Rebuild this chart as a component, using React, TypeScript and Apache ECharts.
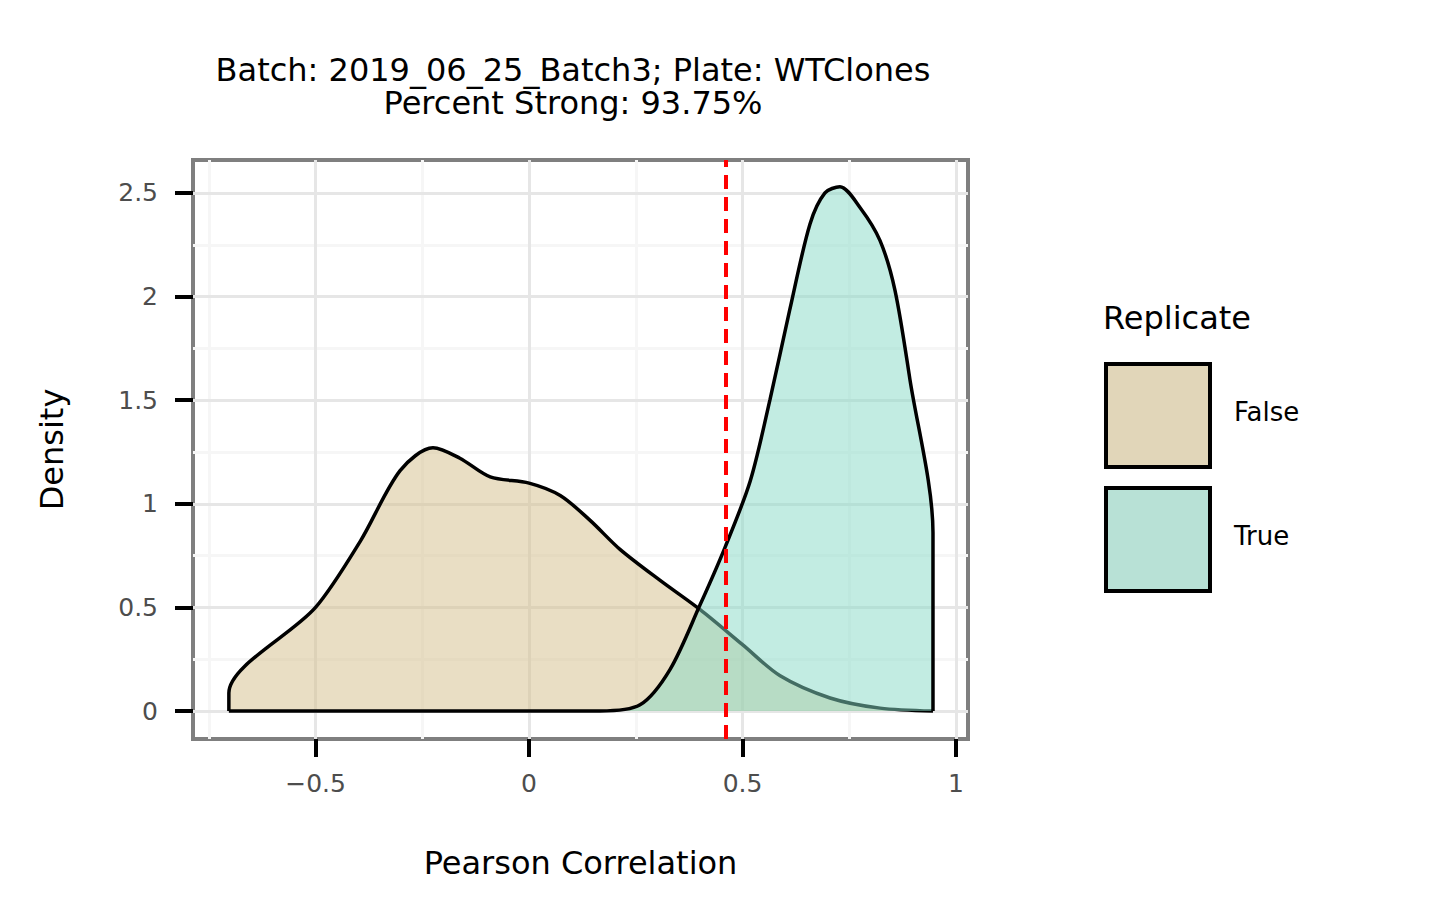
import { useEffect, useRef } from 'react';
import * as echarts from 'echarts';

const falseX = [-0.703, -0.703, -0.5, -0.395, -0.302, -0.225, -0.162, -0.091, 0, 0.073, 0.143, 0.213, 0.307, 0.4, 0.5, 0.588, 0.705, 0.822, 0.946];
const falseY = [0, 0.087, 0.5, 0.82, 1.16, 1.27, 1.22, 1.13, 1.1, 1.04, 0.92, 0.78, 0.63, 0.49, 0.32, 0.17, 0.063, 0.014, 0];
const trueX = [-0.703, 0.166, 0.26, 0.33, 0.4, 0.459, 0.518, 0.564, 0.611, 0.658, 0.693, 0.728, 0.775, 0.822, 0.857, 0.892, 0.946, 0.946];
const trueY = [0, 0, 0.03, 0.2, 0.51, 0.79, 1.11, 1.5, 1.94, 2.35, 2.5, 2.53, 2.43, 2.27, 2.03, 1.6, 0.86, 0];
const xTicks = [-0.5, 0, 0.5, 1];
const xMinor = [-0.75, -0.25, 0.25, 0.75];
const yTicks = [0, 0.5, 1, 1.5, 2, 2.5];
const yMinor = [0.25, 0.75, 1.25, 1.75, 2.25];
const threshold = 0.459;

const fmt = (v: number) => (v < 0 ? '\u2212' + Math.abs(v) : String(v));

export default function App() {
  const ref = useRef<HTMLDivElement>(null);

  useEffect(() => {
    if (!ref.current) return;
    const chart = echarts.init(ref.current, null, { renderer: 'svg' });
    const font = 'DejaVu Sans';
    const gridLines = (xs: number[], ys: number[], color: string) => [
      ...xs.map((v) => ({ xAxis: v, lineStyle: { color, width: 3, type: 'solid' } })),
      ...ys.map((v) => ({ yAxis: v, lineStyle: { color, width: 3, type: 'solid' } })),
    ];
    chart.setOption({
      animation: false,
      textStyle: { fontFamily: font },
      title: {
        text: 'Batch: 2019_06_25_Batch3; Plate: WTClones\nPercent Strong: 93.75%',
        left: 568,
        top: 48,
        textAlign: 'center',
        textStyle: { fontSize: 32, fontWeight: 'normal', color: '#000', lineHeight: 33, fontFamily: font },
      },
      grid: { left: 193, top: 160, width: 775, height: 579, show: true, borderColor: '#7f7f7f', borderWidth: 4, backgroundColor: '#fff' },
      xAxis: {
        type: 'value', min: -0.787, max: 1.028,
        name: 'Pearson Correlation', nameLocation: 'middle', nameGap: 108,
        nameTextStyle: { fontSize: 32, color: '#000' },
        axisLine: { show: false, onZero: false },
        splitLine: { show: false },
        axisTick: { show: true, length: 18, lineStyle: { color: '#000', width: 4 }, customValues: xTicks },
        axisLabel: { customValues: xTicks, formatter: fmt, fontSize: 25, color: '#4d4d4d', margin: 32 },
      },
      yAxis: {
        type: 'value', min: -0.135, max: 2.659,
        name: 'Density', nameLocation: 'middle', nameGap: 125,
        nameTextStyle: { fontSize: 32, color: '#000' },
        axisLine: { show: false, onZero: false },
        splitLine: { show: false },
        axisTick: { show: true, length: 18, lineStyle: { color: '#000', width: 4 }, customValues: yTicks },
        axisLabel: { customValues: yTicks, formatter: fmt, fontSize: 25, color: '#4d4d4d', margin: 35 },
      },
      series: [
        {
          type: 'line', silent: true, data: [], symbol: 'none', z: 1,
          markLine: {
            silent: true, symbol: 'none', label: { show: false }, z: 1,
            data: [...gridLines(xMinor, yMinor, '#f6f6f6'), ...gridLines(xTicks, yTicks, '#e6e6e6')],
          },
        },
        {
          name: 'False', type: 'line', symbol: 'none', smooth: 0.3, z: 3,
          data: falseX.map((x, i) => [x, falseY[i]]),
          lineStyle: { color: '#000', width: 3.5 },
          areaStyle: { color: '#d4be8a', opacity: 0.5, origin: 0 },
        },
        {
          name: 'True', type: 'line', symbol: 'none', smooth: 0.3, z: 4,
          data: trueX.map((x, i) => [x, trueY[i]]),
          lineStyle: { color: '#000', width: 3.5 },
          areaStyle: { color: '#86d9c6', opacity: 0.5, origin: 0 },
          markLine: {
            silent: true, symbol: 'none', label: { show: false }, z: 5,
            data: [{ xAxis: threshold }],
            lineStyle: { color: '#ff0000', width: 4, type: [14, 8] },
          },
        },
      ],
      graphic: [
        { type: 'text', left: 1103, top: 302, style: { text: 'Replicate', fontSize: 32, fill: '#000', fontFamily: font } },
        { type: 'rect', shape: { x: 1106, y: 364, width: 104, height: 103 }, style: { fill: '#e1d6b9', stroke: '#000', lineWidth: 4 } },
        { type: 'rect', shape: { x: 1106, y: 488, width: 104, height: 103 }, style: { fill: '#b8e1d6', stroke: '#000', lineWidth: 4 } },
        { type: 'text', left: 1234, top: 399, style: { text: 'False', fontSize: 26, fill: '#000', fontFamily: font } },
        { type: 'text', left: 1234, top: 523, style: { text: 'True', fontSize: 26, fill: '#000', fontFamily: font } },
      ],
    });
    return () => chart.dispose();
  }, []);

  return <div ref={ref} style={{ width: 1440, height: 915, margin: -8 }} />;
}
